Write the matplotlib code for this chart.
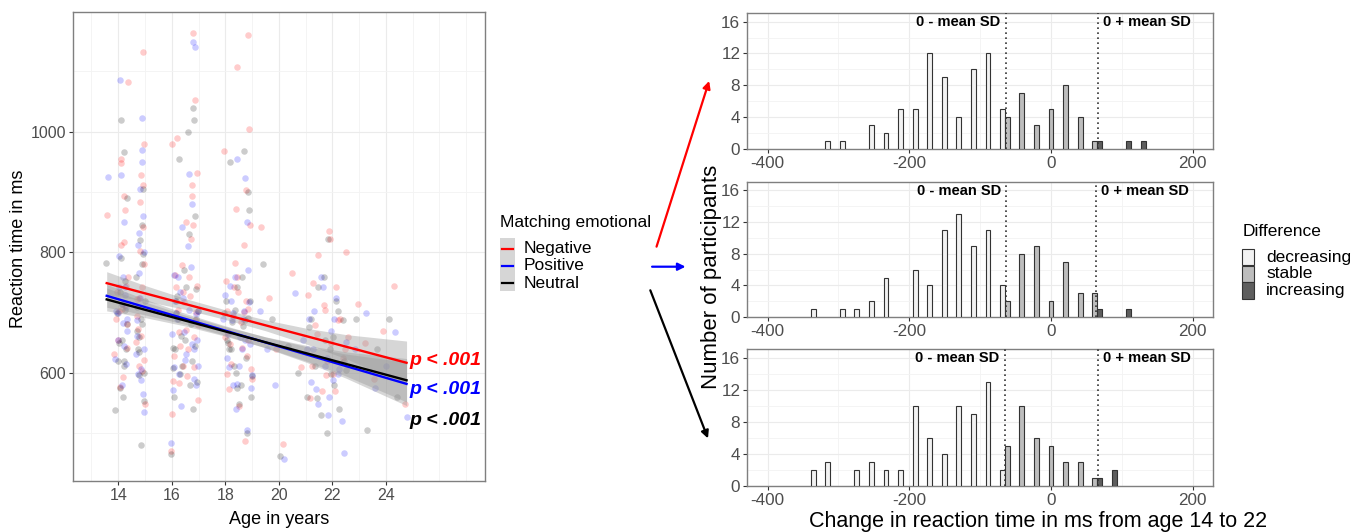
import numpy as np
import matplotlib.pyplot as plt
from matplotlib.patches import Rectangle, FancyArrowPatch
from matplotlib.lines import Line2D

plt.rcParams['font.family'] = ['Liberation Sans', 'DejaVu Sans']
plt.rcParams['axes.unicode_minus'] = False

# ---------------- data: left panel (reaction time by age) ----------------
groups = ["Negative", "Positive", "Neutral"]
group_colors = ["#FF0000", "#0000FF", "#000000"]

neg_age = [14.12, 14.21, 13.93, 14.31, 14.82, 14.91, 14.72, 14.98, 14.03, 14.18,
           14.86, 14.95, 13.97, 14.26, 14.77, 14.89, 14.09, 14.33, 14.81, 14.68,
           14.15, 14.06, 14.93, 14.71, 14.36, 13.86, 14.79, 14.99, 14.22, 14.88,
           14.11, 14.74, 14.29, 14.84, 13.58, 14.01, 14.94, 14.24, 14.35, 14.96,
           16.02, 16.15, 16.28, 16.41, 16.55, 16.68, 16.81, 16.93, 16.05, 16.22,
           16.37, 16.62, 16.76, 16.88, 16.99, 15.96, 16.11, 16.31, 16.47, 16.71,
           16.84, 16.95, 16.18, 16.52, 16.79, 16.91, 16.08, 16.26, 16.66, 16.86,
           16.98, 16.43, 16.58, 16.74, 16.83, 16.01,
           17.95, 18.08, 18.19, 18.42, 18.46, 18.58, 18.71, 18.84, 18.97, 18.02,
           18.14, 18.27, 18.41, 18.63, 18.77, 18.9, 18.99, 18.11, 18.38, 18.52,
           18.68, 18.81, 18.93, 17.98, 18.23, 18.44, 18.74, 18.86, 18.05, 18.31,
           18.79, 18.83,
           19.35, 19.62, 19.9, 20.15, 20.48, 20.82,
           21.08, 21.22, 21.35, 21.48, 21.6, 21.73, 21.86, 21.95, 22.04, 22.15,
           22.27, 22.39, 22.52, 21.15, 21.42, 21.68, 21.81, 21.91, 22.08, 22.22,
           22.46, 21.29, 21.77, 22.6,
           22.95, 23.2, 23.55, 23.9, 24.3, 24.7]
neg_rt = [955, 818, 690, 642, 884, 912, 722, 980, 703, 593,
          661, 781, 734, 871, 612, 742, 948, 681, 803, 652,
          706, 577, 842, 694, 1082, 631, 724, 548, 893, 604,
          812, 673, 745, 928, 862, 655, 1133, 712, 760, 622,
          980, 742, 668, 612, 851, 727, 1163, 932, 587, 705,
          779, 640, 893, 688, 556, 470, 762, 645, 718, 823,
          610, 745, 990, 672, 846, 701, 629, 583, 760, 1052,
          680, 734, 595, 912, 660, 532,
          968, 702, 648, 1108, 735, 684, 812, 1160, 606, 752,
          574, 695, 872, 641, 720, 1004, 590, 668, 783, 545,
          701, 628, 845, 660, 615, 760, 487, 706, 598, 742,
          903, 655,
          842, 725, 640, 482, 765, 610,
          730, 612, 680, 796, 571, 705, 836, 650, 598, 742,
          690, 625, 801, 558, 664, 712, 620, 822, 570, 688,
          640, 750, 596, 660,
          715, 650, 590, 670, 745, 548]

pos_age = [14.08, 14.19, 13.91, 14.28, 14.79, 14.87, 14.69, 14.97, 14.02, 14.16,
           14.83, 14.92, 13.99, 14.24, 14.75, 14.9, 14.13, 14.32, 14.8, 14.66,
           14.17, 14.04, 14.94, 14.73, 14.34, 13.88, 14.78, 14.98, 14.21, 14.86,
           14.1, 14.72, 14.27, 14.85, 13.62, 14.0, 14.95, 14.23, 14.9, 14.3,
           16.0, 16.13, 16.26, 16.39, 16.53, 16.66, 16.79, 16.92, 16.07, 16.2,
           16.35, 16.6, 16.74, 16.87, 16.97, 15.98, 16.1, 16.29, 16.45, 16.7,
           16.82, 16.94, 16.16, 16.5, 16.77, 16.89, 16.06, 16.24, 16.64, 16.84,
           16.99, 16.41,
           17.93, 18.06, 18.17, 18.3, 18.44, 18.56, 18.69, 18.82, 18.95, 18.0,
           18.12, 18.25, 18.39, 18.61, 18.75, 18.88, 18.98, 18.09, 18.36, 18.5,
           18.66, 18.8, 18.92, 18.2, 18.42, 18.72, 18.85, 18.28,
           19.28, 19.55, 19.85, 20.2, 20.6, 20.9,
           21.05, 21.19, 21.33, 21.46, 21.58, 21.71, 21.84, 21.93, 22.02, 22.13,
           22.25, 22.37, 22.5, 21.12, 21.4, 21.66, 21.79, 21.89, 22.06, 22.2,
           22.44, 21.26,
           22.85, 23.25, 23.6, 24.0, 24.35, 24.8]
pos_rt = [1085, 760, 702, 615, 832, 970, 688, 640, 794, 580,
          725, 860, 655, 742, 598, 1022, 715, 670, 905, 632,
          683, 742, 566, 812, 690, 624, 765, 535, 850, 606,
          928, 661, 730, 588, 925, 700, 800, 645, 950, 710,
          665, 720, 598, 842, 632, 705, 1148, 580, 762, 690,
          545, 810, 648, 1140, 702, 484, 610, 735, 668, 776,
          590, 654, 700, 622, 880, 698, 572, 760, 930, 640,
          612, 725,
          690, 625, 745, 580, 955, 660, 702, 850, 575, 730,
          610, 688, 540, 640, 924, 718, 596, 665, 760, 612,
          690, 506, 648, 720, 582, 655, 770, 700,
          702, 640, 580, 458, 732, 655,
          640, 585, 702, 548, 760, 612, 530, 670, 588, 725,
          606, 520, 652, 690, 574, 742, 625, 560, 690, 598,
          467, 640,
          640, 700, 575, 612, 668, 527]

neu_age = [14.1, 14.22, 13.95, 14.3, 14.81, 14.9, 14.7, 14.97, 14.05, 14.19,
           14.84, 14.93, 13.98, 14.25, 14.76, 14.88, 14.14, 14.34, 14.79, 14.67,
           14.16, 14.07, 14.92, 14.72, 14.33, 13.87, 14.77, 14.99, 14.23, 14.87,
           14.12, 14.73, 14.27, 14.86, 13.55, 14.02, 14.96, 14.2,
           16.03, 16.14, 16.27, 16.4, 16.54, 16.67, 16.8, 16.92, 16.09, 16.21,
           16.36, 16.61, 16.75, 16.87, 16.98, 15.97, 16.12, 16.3, 16.46, 16.72,
           16.83, 16.96, 16.17, 16.51, 16.78, 16.9, 16.05, 16.25, 16.63, 16.85,
           17.94, 18.07, 18.18, 18.32, 18.45, 18.57, 18.7, 18.83, 18.96, 18.01,
           18.13, 18.26, 18.4, 18.62, 18.76, 18.89, 18.98, 18.1, 18.37, 18.51,
           18.67, 18.8, 18.93, 18.22, 18.43, 18.73, 18.86,
           19.4, 19.75, 20.05, 20.35, 20.7,
           21.07, 21.2, 21.34, 21.47, 21.59, 21.72, 21.85, 21.94, 22.03, 22.14,
           22.26, 22.38, 22.51, 21.13, 21.41, 21.67, 21.8, 21.9, 22.07, 22.21,
           22.45,
           22.9, 23.3, 23.65, 24.1, 24.4]
neu_rt = [1020, 966, 700, 640, 820, 780, 670, 600, 735, 560,
          690, 905, 620, 752, 596, 845, 715, 682, 635, 760,
          655, 575, 798, 710, 890, 538, 660, 720, 612, 682,
          790, 640, 705, 480, 782, 650, 553, 620,
          642, 700, 955, 612, 742, 580, 1040, 690, 560, 728,
          662, 1000, 620, 860, 702, 465, 640, 598, 770, 682,
          1020, 585, 720, 655, 540, 740, 608, 690, 830, 645,
          700, 655, 950, 612, 742, 580, 968, 692, 560, 720,
          640, 685, 600, 760, 625, 870, 595, 650, 704, 548,
          678, 500, 720, 640, 575, 688, 900,
          780, 690, 462, 645, 600,
          560, 690, 612, 742, 530, 655, 822, 598, 660, 720,
          540, 688, 605, 676, 558, 760, 500, 640, 580, 702,
          620,
          690, 505, 640, 690, 560]

# linear fits (values at the ends of the age range) and CI half widths
fit_age = [13.57, 24.77]
neg_fit = [749, 617]
pos_fit = [728, 582]
neu_fit = [722, 588]
ci_age = [13.57, 15.0, 16.5, 18.0, 19.5, 21.0, 22.5, 24.77]
ci_half = [19, 13, 9, 8, 9, 13, 20, 36]
p_labels = ["p < .001", "p < .001", "p < .001"]
p_label_rt = [621, 572, 522]

# ---------------- data: histograms of change 14 -> 22 ----------------
BIN_W = 20.55  # bin width (ms); bins are centred on k * BIN_W
diff_levels = ["decreasing", "stable", "increasing"]
diff_fills = ["#F2F2F2", "#BDBDBD", "#5E5E5E"]

neg_dec_k = [-15, -14, -12, -11, -10, -9, -8, -7, -6, -5, -4, -3]
neg_dec_n = [1, 1, 3, 2, 5, 5, 12, 9, 4, 10, 12, 5]
neg_sta_k = [-3, -2, -1, 0, 1, 2, 3]
neg_sta_n = [4, 7, 3, 5, 8, 4, 1]
neg_inc_k = [3, 5, 6]
neg_inc_n = [1, 1, 1]
neg_sd = [-64, 66]

pos_dec_k = [-16, -14, -13, -12, -11, -9, -8, -7, -6, -5, -4, -3]
pos_dec_n = [1, 1, 1, 2, 5, 6, 4, 11, 13, 9, 11, 4]
pos_sta_k = [-3, -2, -1, 0, 1, 2, 3]
pos_sta_n = [2, 8, 9, 2, 7, 3, 3]
pos_inc_k = [3, 5]
pos_inc_n = [1, 1]
pos_sd = [-63, 63]

neu_dec_k = [-16, -15, -13, -12, -11, -10, -9, -8, -7, -6, -5, -4, -3]
neu_dec_n = [2, 3, 2, 3, 2, 2, 10, 6, 4, 10, 9, 13, 2]
neu_sta_k = [-3, -2, -1, 0, 1, 2, 3]
neu_sta_n = [5, 10, 6, 5, 3, 3, 1]
neu_inc_k = [3, 4]
neu_inc_n = [1, 2]
neu_sd = [-65, 66]

# ---------------- figure ----------------
W, H = 1369, 532
fig = plt.figure(figsize=(W / 100, H / 100), dpi=100)


def fx(px):
    return px / W


def fy(py):
    return 1 - py / H


def rect(left, top, right, bottom):
    return [fx(left), fy(bottom), fx(right - left), (bottom - top) / H]


TICK_C = "#4D4D4D"
BORDER_C = "#7F7F7F"


def style_axes(ax, fs):
    for s in ax.spines.values():
        s.set_color(BORDER_C)
        s.set_linewidth(1.0)
    ax.tick_params(which="major", length=3, width=0.8, color="#333333",
                   labelsize=fs, labelcolor=TICK_C, pad=2)
    ax.tick_params(which="minor", length=0)
    ax.grid(True, which="major", color="#EBEBEB", lw=0.8)
    ax.grid(True, which="minor", color="#F3F3F3", lw=0.6)
    ax.set_axisbelow(True)


# ---- left panel
ax = fig.add_axes(rect(72.7, 11.7, 485, 481))
ages = [neg_age, pos_age, neu_age]
rts = [neg_rt, pos_rt, neu_rt]
fits = [neg_fit, pos_fit, neu_fit]
for a, r, c in zip(ages, rts, group_colors):
    ax.scatter(a, r, s=22, color=c, alpha=0.2, linewidths=0, zorder=2)

ci_x = np.linspace(fit_age[0], fit_age[1], 120)
for f in fits:
    mid = np.interp(ci_x, fit_age, f)
    hw = np.interp(ci_x, ci_age, ci_half)
    ax.fill_between(ci_x, mid - hw, mid + hw, color="#999999", alpha=0.4,
                    lw=0, zorder=3)
for f, c in zip(fits, group_colors):
    ax.plot(fit_age, f, color=c, lw=1.7, zorder=4)
for lab, yv, c in zip(p_labels, p_label_rt, group_colors):
    ax.text(24.86, yv, lab, color=c, fontsize=14, fontweight="bold",
            fontstyle="italic", ha="left", va="center", zorder=5)

ax.set_xlim(12.3, 27.7)
ax.set_ylim(421, 1199)
ax.set_xticks([14, 16, 18, 20, 22, 24])
ax.set_xticks([13, 15, 17, 19, 21, 23, 25, 26, 27], minor=True)
ax.set_yticks([600, 800, 1000])
ax.set_yticks([500, 700, 900, 1100], minor=True)
style_axes(ax, 11.5)

fig.text(fx(19), fy(249), "Reaction time in ms", rotation=90, fontsize=13,
         ha="center", va="center")
fig.text(fx(279), fy(520), "Age in years", fontsize=13, ha="center", va="center")

# ---- legend: matching emotional
fig.text(fx(500), fy(222), "Matching emotional", fontsize=12.5,
         ha="left", va="center")
fig.add_artist(Rectangle((fx(500), fy(291)), fx(15), 53 / H,
                         transform=fig.transFigure, color="#D6D6D6", lw=0))
for i, (g, c) in enumerate(zip(groups, group_colors)):
    yy = fy(248.5 + 17.3 * i)
    fig.add_artist(Line2D([fx(502), fx(513)], [yy, yy], color=c, lw=1.6,
                          transform=fig.transFigure))
    fig.text(fx(524), yy, g, fontsize=12.5, ha="left", va="center")

# ---- arrows
arrows = [((655.7, 249.3), (710, 78.3)),
          ((649.3, 266.7), (688.3, 266.7)),
          ((649.3, 287.7), (709, 441))]
for (a, b), c in zip(arrows, group_colors):
    fig.add_artist(FancyArrowPatch((fx(a[0]), fy(a[1])), (fx(b[0]), fy(b[1])),
                                   transform=fig.transFigure, arrowstyle="-|>",
                                   mutation_scale=11, lw=1.6, color=c))

# ---- histograms
panels = [
    (rect(747.3, 13.3, 1213.3, 148.6), neg_dec_k, neg_dec_n, neg_sta_k,
     neg_sta_n, neg_inc_k, neg_inc_n, neg_sd),
    (rect(747.3, 181.7, 1213.3, 317.3), pos_dec_k, pos_dec_n, pos_sta_k,
     pos_sta_n, pos_inc_k, pos_inc_n, pos_sd),
    (rect(747.3, 349.3, 1213.3, 485.7), neu_dec_k, neu_dec_n, neu_sta_k,
     neu_sta_n, neu_inc_k, neu_inc_n, neu_sd),
]
for pos, dk, dn, sk, sn, ik, inn, sd in panels:
    hx = fig.add_axes(pos)
    for (k, n), off, col in zip([(dk, dn), (sk, sn), (ik, inn)],
                                [-1, 0, 1], diff_fills):
        centers = np.array(k) * BIN_W + off * BIN_W / 3
        hx.bar(centers, n, width=BIN_W / 3, color=col, edgecolor="#333333",
               linewidth=0.8, zorder=3)
    for v in sd:
        hx.axvline(v, color="#333333", ls=(0, (1, 2)), lw=1.2, zorder=4)
    hx.annotate("0 - mean SD", xy=(sd[0], 15.9), xytext=(-4, 0),
                textcoords="offset points", ha="right", va="center",
                fontsize=10.5, fontweight="bold")
    hx.annotate("0 + mean SD", xy=(sd[1], 15.9), xytext=(4, 0),
                textcoords="offset points", ha="left", va="center",
                fontsize=10.5, fontweight="bold")
    hx.set_xlim(-428.7, 229)
    hx.set_ylim(0, 17.05)
    hx.set_xticks([-400, -200, 0, 200])
    hx.set_xticks([-300, -100, 100], minor=True)
    hx.set_yticks([0, 4, 8, 12, 16])
    hx.set_yticks([2, 6, 10, 14], minor=True)
    style_axes(hx, 12.3)

fig.text(fx(712), fy(277), "Number of participants", rotation=90, fontsize=16,
         ha="center", va="center")
fig.text(fx(1038), fy(521), "Change in reaction time in ms from age 14 to 22",
         fontsize=15.5, ha="center", va="center")

# ---- legend: difference
fig.text(fx(1242.7), fy(232), "Difference", fontsize=12.5, ha="left",
         va="center")
for i, (lev, col) in enumerate(zip(diff_levels, diff_fills)):
    top = 249 + 16.7 * i
    fig.add_artist(Rectangle((fx(1242), fy(top + 16.2)), fx(11.5), 16.2 / H,
                             transform=fig.transFigure, facecolor=col,
                             edgecolor="#333333", lw=0.8))
    fig.text(fx(1266), fy(top + 8.3), lev, fontsize=12.5, ha="left",
             va="center")

fig.savefig("out.png", dpi=100)
